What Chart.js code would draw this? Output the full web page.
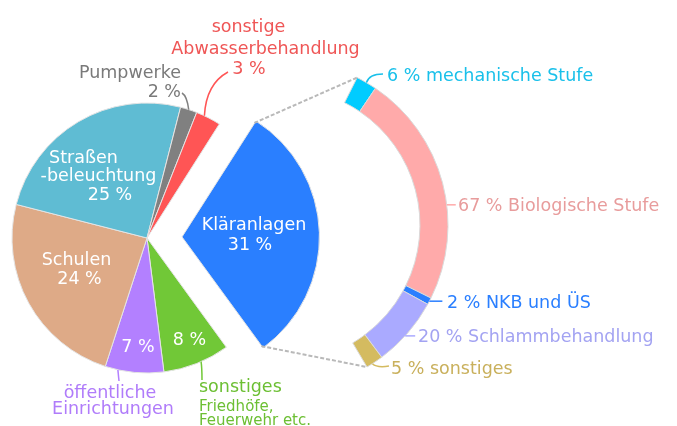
<!DOCTYPE html>
<html><head><meta charset="utf-8">
<script src="https://cdn.jsdelivr.net/npm/chart.js@4/dist/chart.umd.min.js"></script>
<style>
html,body{margin:0;padding:0;background:#fff;}
#wrap{position:relative;width:677px;height:426px;overflow:hidden;}
canvas{position:absolute;left:0;top:0;}
</style></head><body>
<div id="wrap"><canvas id="pie" width="677" height="426"></canvas><canvas id="ring" width="677" height="426"></canvas></div>
<script>
// ---- data ----
const pieCategories = ['Kläranlagen','sonstiges','öffentliche Einrichtungen','Schulen','Straßenbeleuchtung','Pumpwerke','sonstige Abwasserbehandlung'];
const pieValues = [31, 8, 7, 24, 25, 2, 3];
const ringCategories = ['mechanische Stufe','Biologische Stufe','NKB und ÜS','Schlammbehandlung','sonstiges'];
const ringValues = [6, 67, 2, 20, 5];

// ---- styles ----
const pieColors = ['#2a7fff','#71c837','#b380ff','#deaa87','#5fbcd3','#808080','#ff5555'];
const ringColors = ['#00ccff','#ffaaaa','#2a7fff','#aaaaff','#d4bb60'];
const FONT = '"DejaVu Sans", Verdana, sans-serif';
const W = 677, H = 426;

// layout of the two circles
const PIE = {cx: 147, cy: 238, r: 135, explode: 35, rotation: 32.4};
const RING = {cx: 283, cy: 225, r: 165, cutout: 0.83, rotation: 26.7, circumference: 122.7};

function pct(v){ return v + ' %'; }

// text layout for labels (lines: [text, x, baseline])
const pieText = [
  {color:'#fff', size:17.5, align:'center', lines:[[pieCategories[0],254,230],[pct(pieValues[0]),250,250]]},
  {color:'#fff', size:17.5, align:'center', lines:[[pct(pieValues[1]),189.5,345]]},
  {color:'#fff', size:17.5, align:'center', lines:[[pct(pieValues[2]),138,352]]},
  {color:'#fff', size:17.5, align:'center', lines:[[pieCategories[3],76.5,265],[pct(pieValues[3]),79.5,284]]},
  {color:'#fff', size:17.5, align:'center', lines:[['Straßen',83.5,163],['-beleuchtung',98.5,181],[pct(pieValues[4]),110,200]]},
  {color:'#7a7a7a', size:17.5, align:'right', lines:[[pieCategories[5],181,78],[pct(pieValues[5]),181,97]]},
  {color:'#ef5656', size:17.5, align:'center', lines:[['sonstige',248.5,32],['Abwasserbehandlung',265.5,54],[pct(pieValues[6]),249,74]]},
  {color:'#6cbf33', size:17.5, align:'left', lines:[['sonstiges',199,392]]},
  {color:'#6cbf33', size:15, align:'left', lines:[['Friedhöfe,',199,411],['Feuerwehr etc.',199,425]]},
  {color:'#b07cfa', size:17.5, align:'center', lines:[['öffentliche',110,398],['Einrichtungen',113,414]]}
];
const ringTextColors = ['#19c0ea','#e89c9c','#2a7fff','#a3a3f2','#c9b05c'];
const ringTextPos = [[387,81],[458,211],[447,308],[418,342],[391,374]];

// leader lines: slice index, position along slice (0..1), then control/end points
const pieLeaders = [
  {i:5, f:0.5, color:'#808080', ctrl:[187,96], end:[182,93]},
  {i:6, f:0.33, color:'#ff5555', ctrl:[206,84], end:[228,72]},
  {i:1, f:0.43, color:'#71c837', ctrl:[202,368], end:[202,380]},
  {i:2, f:0.78, color:'#b380ff', ctrl:null, end:[119,381]}
];
const ringLeaders = [
  {i:0, f:0.5, color:'#19c0ea', ctrl:[369,74], end:[383,74]},
  {i:1, f:0.595, color:'#ffaaaa', ctrl:null, dx:9},
  {i:2, f:0.5, color:'#2a7fff', ctrl:null, dx:13},
  {i:3, f:0.55, color:'#aaaaff', ctrl:null, dx:10},
  {i:4, f:0.64, color:'#d4bb60', ctrl:[377,368], end:[389,366]}
];

function arcPoint(arc, f, extraOffset){
  const a = arc.startAngle + (arc.endAngle - arc.startAngle) * f;
  const off = extraOffset || 0;
  const mid = (arc.startAngle + arc.endAngle) / 2;
  return [arc.x + Math.cos(a) * arc.outerRadius + Math.cos(mid)*off,
          arc.y + Math.sin(a) * arc.outerRadius + Math.sin(mid)*off];
}
function drawLeader(ctx, p0, L){
  ctx.save();
  ctx.strokeStyle = L.color; ctx.lineWidth = 1.5;
  ctx.beginPath(); ctx.moveTo(p0[0], p0[1]);
  const end = L.end || [p0[0] + L.dx, p0[1]];
  if (L.ctrl) ctx.quadraticCurveTo(L.ctrl[0], L.ctrl[1], end[0], end[1]);
  else ctx.lineTo(end[0], end[1]);
  ctx.stroke(); ctx.restore();
}
function drawText(ctx, t){
  ctx.save();
  ctx.fillStyle = t.color; ctx.font = t.size + 'px ' + FONT;
  ctx.textAlign = t.align; ctx.textBaseline = 'alphabetic';
  t.lines.forEach(l => ctx.fillText(l[0], l[1], l[2]));
  ctx.restore();
}

// replicate Chart.js partial-circle centring so the ring centre lands where wanted
function ratioOffset(rotDeg, circDeg, cutout){
  const s = (rotDeg - 90) * Math.PI/180, e = s + circDeg*Math.PI/180;
  const between = (ang) => { let a = ang; while (a < s) a += 2*Math.PI; return a <= e; };
  const sx=Math.cos(s), sy=Math.sin(s), ex=Math.cos(e), ey=Math.sin(e);
  const cmax=(ang,a,b)=> between(ang)?1:Math.max(a,a*cutout,b,b*cutout);
  const cmin=(ang,a,b)=> between(ang)?-1:Math.min(a,a*cutout,b,b*cutout);
  const maxX=cmax(0,sx,ex), maxY=cmax(Math.PI/2,sy,ey), minX=cmin(Math.PI,sx,ex), minY=cmin(1.5*Math.PI,sy,ey);
  return {ox: -(maxX+minX)/2, oy: -(maxY+minY)/2};
}
function paddingFor(cx, cy){
  const p = {left:0,right:0,top:0,bottom:0};
  if (cx*2 > W) p.left = 2*cx - W; else p.right = W - 2*cx;
  if (cy*2 > H) p.top = 2*cy - H; else p.bottom = H - 2*cy;
  return p;
}

let pieChart = null;

const pieLabelPlugin = {
  id:'pieLabels',
  afterDatasetsDraw(chart){
    const ctx = chart.ctx;
    const arcs = chart.getDatasetMeta(0).data;
    pieLeaders.forEach(L => drawLeader(ctx, arcPoint(arcs[L.i], L.f), L));
    pieText.forEach(t => drawText(ctx, t));
  }
};

pieChart = new Chart(document.getElementById('pie'), {
  type:'pie',
  data:{labels: pieCategories, datasets:[{
    data: pieValues,
    backgroundColor: pieColors,
    borderColor: '#e4e4e4',
    borderWidth: 1,
    offset: pieValues.map((v,i)=> i===0 ? PIE.explode*4 : 0),
    hoverOffset: 0,
    radius: PIE.r,
    clip: false
  }]},
  options:{
    responsive:false, animation:false, devicePixelRatio:1,
    rotation: PIE.rotation,
    radius: PIE.r,
    layout:{padding: paddingFor(PIE.cx, PIE.cy)},
    plugins:{legend:{display:false}, tooltip:{enabled:false}}
  },
  plugins:[pieLabelPlugin]
});

const ro = ratioOffset(RING.rotation, RING.circumference, RING.cutout);
const ringArea = {cx: RING.cx - ro.ox*RING.r, cy: RING.cy - ro.oy*RING.r};

const ringLabelPlugin = {
  id:'ringLabels',
  afterDatasetsDraw(chart){
    const ctx = chart.ctx;
    const arcs = chart.getDatasetMeta(0).data;
    // dashed connectors from the exploded slice to the ring ends
    const k = pieChart.getDatasetMeta(0).data[0];
    const mid = (k.startAngle + k.endAngle)/2;
    const off = (k.options.offset || 0)/4;
    const kx = k.x + Math.cos(mid)*off, ky = k.y + Math.sin(mid)*off;
    const first = arcs[0], last = arcs[arcs.length-1];
    const segs = [
      [[kx + Math.cos(k.startAngle)*k.outerRadius, ky + Math.sin(k.startAngle)*k.outerRadius],
       [first.x + Math.cos(first.startAngle)*first.outerRadius, first.y + Math.sin(first.startAngle)*first.outerRadius]],
      [[kx + Math.cos(k.endAngle)*k.outerRadius, ky + Math.sin(k.endAngle)*k.outerRadius],
       [last.x + Math.cos(last.endAngle)*last.outerRadius, last.y + Math.sin(last.endAngle)*last.outerRadius]]
    ];
    ctx.save();
    ctx.strokeStyle = '#b9b9b9'; ctx.lineWidth = 2; ctx.setLineDash([4,2]);
    segs.forEach(s => { ctx.beginPath(); ctx.moveTo(s[0][0], s[0][1]); ctx.lineTo(s[1][0], s[1][1]); ctx.stroke(); });
    ctx.restore();
    ringLeaders.forEach(L => drawLeader(ctx, arcPoint(arcs[L.i], L.f), L));
    ringValues.forEach((v,i) => drawText(ctx, {color: ringTextColors[i], size:17.5, align:'left',
      lines:[[pct(v) + ' ' + ringCategories[i], ringTextPos[i][0], ringTextPos[i][1]]]}));
  }
};

new Chart(document.getElementById('ring'), {
  type:'doughnut',
  data:{labels: ringCategories, datasets:[{
    data: ringValues,
    backgroundColor: ringColors,
    borderColor: '#dadada',
    borderWidth: 1,
    hoverOffset: 0,
    radius: RING.r,
    clip: false
  }]},
  options:{
    responsive:false, animation:false, devicePixelRatio:1,
    rotation: RING.rotation,
    circumference: RING.circumference,
    cutout: (RING.cutout*100) + '%',
    radius: RING.r,
    layout:{padding: paddingFor(ringArea.cx, ringArea.cy)},
    plugins:{legend:{display:false}, tooltip:{enabled:false}}
  },
  plugins:[ringLabelPlugin]
});
</script>
</body></html>
